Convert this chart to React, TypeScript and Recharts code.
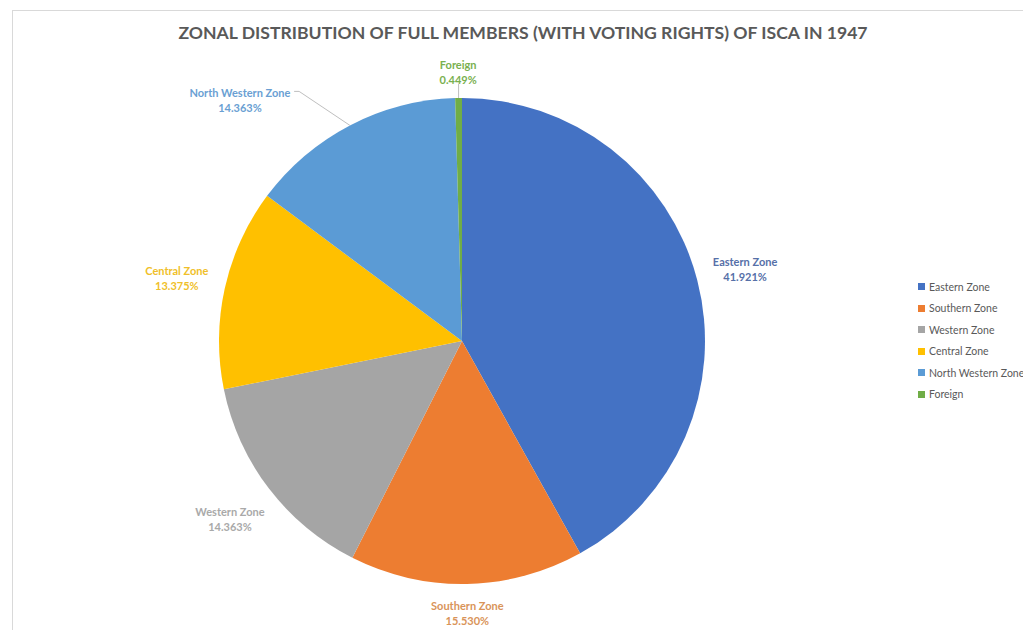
import { PieChart, Pie, Cell, Legend } from "recharts";

const zones = ["Eastern Zone", "Southern Zone", "Western Zone", "Central Zone", "North Western Zone", "Foreign"];
const shares = [41.921, 15.53, 14.363, 13.375, 14.363, 0.449];
const sliceColors = ["#4472c4", "#ed7d31", "#a5a5a5", "#ffc000", "#5b9bd5", "#70ad47"];
const labelColors = ["#5670a8", "#d99459", "#a9a9a9", "#f0bf2a", "#6a9fd3", "#79b04f"];

const data = zones.map((name, i) => ({ name, value: shares[i] }));

const RAD = Math.PI / 180;
const FONT = "Lato, 'Open Sans', sans-serif";

function renderLabel(props: any) {
  const { cx, cy, midAngle, outerRadius, index, name, value } = props;
  const cos = Math.cos(-midAngle * RAD);
  const sin = Math.sin(-midAngle * RAD);
  const halfW = name.length * 2.9;
  const halfH = 15;
  const ex = cx + outerRadius * cos;
  const ey = cy + outerRadius * sin;
  let x: number;
  let y: number;
  if (index === 4) {
    // callout pulled out to the upper left, as Excel does
    x = ex - 110;
    y = ey - 26;
  } else {
    const r = outerRadius + 12 + halfW * Math.abs(cos) + halfH * Math.abs(sin);
    x = cx + r * cos;
    y = cy + r * sin;
  }
  const color = labelColors[index];
  return (
    <g key={"lbl" + index}>
      {index === 4 && (
        <polyline
          points={`${x + halfW + 2},${y - 8} ${x + halfW + 7},${y - 8} ${ex},${ey}`}
          fill="none"
          stroke="#bfbfbf"
          strokeWidth={1}
        />
      )}
      {index === 5 && (
        <line x1={ex} y1={ey} x2={ex} y2={y + halfH - 2} stroke="#bfbfbf" strokeWidth={1} />
      )}
      <text
        x={x}
        y={y}
        textAnchor="middle"
        fill={color}
        fontFamily={FONT}
        fontSize={11}
        fontWeight={700}
      >
        <tspan x={x} dy={-2}>{name}</tspan>
        <tspan x={x} dy={15}>{value.toFixed(3) + "%"}</tspan>
      </text>
    </g>
  );
}

function LegendList() {
  return (
    <div style={{ fontFamily: FONT, fontSize: 10.5, color: "#595959" }}>
      {zones.map((z, i) => (
        <div key={z} style={{ display: "flex", alignItems: "center", height: 21.5, whiteSpace: "nowrap" }}>
          <span style={{ width: 7, height: 7, background: sliceColors[i], marginRight: 4, display: "inline-block" }} />
          {z}
        </div>
      ))}
    </div>
  );
}

export default function App() {
  return (
    <div style={{ position: "fixed", left: 0, top: 0, width: 1023, height: 630, background: "#fff", overflow: "hidden" }}>
      <div
        style={{
          position: "absolute", left: 12, top: 10, width: 1100, height: 700,
          borderLeft: "1px solid #d9d9d9", borderTop: "1px solid #d9d9d9",
        }}
      />
      <div
        style={{
          position: "absolute", left: 0, width: 1046, top: 22, textAlign: "center",
          fontFamily: FONT, fontWeight: 700, fontSize: 17.6, color: "#595959",
        }}
      >
        ZONAL DISTRIBUTION OF FULL MEMBERS (WITH VOTING RIGHTS) OF ISCA IN 1947
      </div>
      <div style={{ position: "absolute", left: 0, top: 0 }}>
        <PieChart width={1023} height={630} margin={{ top: 0, right: 0, bottom: 0, left: 0 }}>
          <Pie
            data={data}
            dataKey="value"
            nameKey="name"
            cx={462}
            cy={341}
            outerRadius={243}
            startAngle={90}
            endAngle={-270}
            stroke="none"
            label={renderLabel}
            labelLine={false}
            isAnimationActive={false}
          >
            {data.map((d, i) => (
              <Cell key={d.name} fill={sliceColors[i]} />
            ))}
          </Pie>
          <Legend
            layout="vertical"
            verticalAlign="middle"
            align="right"
            content={() => <LegendList />}
            wrapperStyle={{ position: "absolute", left: 918, top: 276, width: 130 }}
          />
        </PieChart>
      </div>
    </div>
  );
}
